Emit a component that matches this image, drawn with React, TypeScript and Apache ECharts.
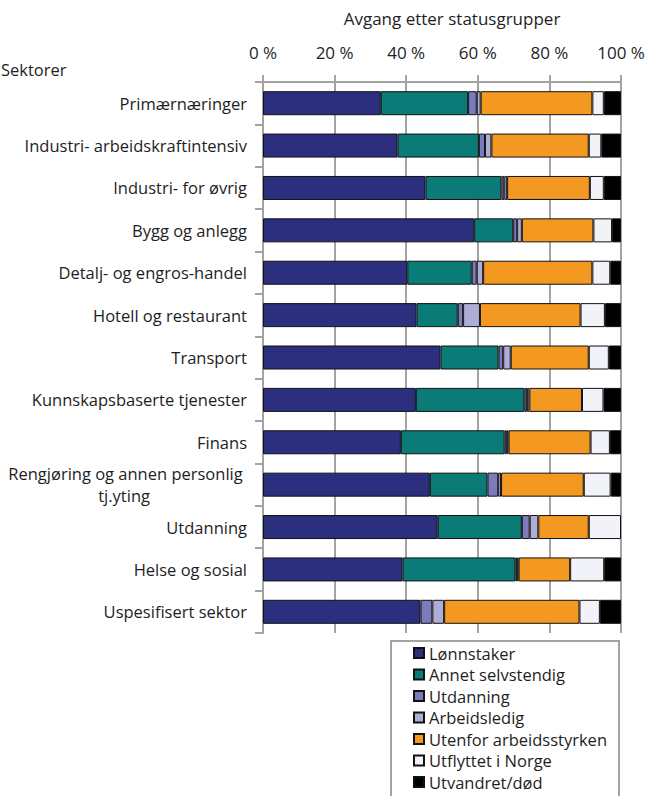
import React, { useEffect, useRef } from "react";
import * as echarts from "echarts";

const sectors = [
  "Primærnæringer",
  "Industri- arbeidskraftintensiv",
  "Industri- for øvrig",
  "Bygg og anlegg",
  "Detalj- og engros-handel",
  "Hotell og restaurant",
  "Transport",
  "Kunnskapsbaserte tjenester",
  "Finans",
  "Rengjøring og annen personlig tj.yting",
  "Utdanning",
  "Helse og sosial",
  "Uspesifisert sektor",
];

const statusGroups = [
  "Lønnstaker",
  "Annet selvstendig",
  "Utdanning",
  "Arbeidsledig",
  "Utenfor arbeidsstyrken",
  "Utflyttet i Norge",
  "Utvandret/død",
];

// Share (%) of each sector's outflow per status group, in sector order
const lonnstaker = [32.9, 37.6, 45.4, 59.0, 40.3, 42.9, 49.6, 42.7, 38.5, 46.6, 48.8, 39.0, 44.0];
const annetSelvstendig = [24.4, 22.7, 21.2, 10.9, 18.0, 11.5, 16.2, 30.3, 29.0, 16.1, 23.5, 31.5, 0];
const utdanning = [2.4, 1.7, 0.8, 1.1, 1.4, 1.5, 1.3, 0.7, 0.6, 3.0, 2.2, 0.5, 3.3];
const arbeidsledig = [1.1, 1.8, 0.8, 1.3, 1.8, 4.7, 2.1, 0.7, 0.5, 0.8, 2.4, 0.4, 3.3];
const utenforArbeidsstyrken = [31.2, 27.2, 23.1, 20.0, 30.5, 28.1, 21.8, 14.7, 22.9, 23.1, 14.1, 14.4, 37.8];
const utflyttetINorge = [3.2, 3.5, 3.9, 5.2, 5.0, 6.8, 5.6, 6.0, 5.4, 7.5, 9.0, 9.5, 5.7];
const utvandretDod = [4.8, 5.5, 4.8, 2.5, 3.0, 4.5, 3.4, 4.9, 3.1, 2.9, 0, 4.7, 5.9];

const xTicks = [0, 20, 40, 60, 80, 100];

const seriesValues = [
  lonnstaker,
  annetSelvstendig,
  utdanning,
  arbeidsledig,
  utenforArbeidsstyrken,
  utflyttetINorge,
  utvandretDod,
];

const colors = ["#2b2f7e", "#0b7b78", "#7b7bbd", "#adadd6", "#f39820", "#f2f3f8", "#000000"];

const FONT = "'Open Sans', 'DejaVu Sans', sans-serif";
const GRID_GRAY = "#a3a3a3";
const TEXT = "#1e1e1e";
const FS = 16.5;

export default function App() {
  const ref = useRef<HTMLDivElement>(null);

  useEffect(() => {
    if (!ref.current) return;
    const chart = echarts.init(ref.current, undefined, { renderer: "svg" });

    const series = statusGroups.map((name, i) => ({
      name,
      type: "bar",
      stack: "total",
      barWidth: 24,
      // empty segments are left out so they draw no stray border
      data: seriesValues[i].map((v) => (v === 0 ? null : v)),
      itemStyle: { color: colors[i], borderColor: "#111", borderWidth: 1 },
      emphasis: { disabled: true },
    }));

    chart.setOption({
      animation: false,
      textStyle: { fontFamily: FONT },
      grid: { left: 263, top: 82, width: 358, height: 551, containLabel: false },
      xAxis: {
        type: "value",
        position: "top",
        min: xTicks[0],
        max: xTicks[xTicks.length - 1],
        interval: xTicks[1] - xTicks[0],
        name: "Avgang etter statusgrupper",
        nameLocation: "middle",
        nameGap: 55,
        nameTextStyle: { fontSize: 17, color: TEXT, fontFamily: FONT, padding: [0, 0, 0, 20] },
        axisLine: { show: true, lineStyle: { color: GRID_GRAY, width: 2 } },
        axisTick: { show: true, length: 7, lineStyle: { color: GRID_GRAY, width: 2 } },
        splitLine: { show: true, lineStyle: { color: GRID_GRAY, width: 2 } },
        axisLabel: {
          margin: 21,
          fontSize: 17,
          color: TEXT,
          fontFamily: FONT,
          formatter: (v: number) => `${v} %`,
        },
      },
      yAxis: {
        type: "category",
        inverse: true,
        data: sectors,
        axisLine: { show: true, lineStyle: { color: GRID_GRAY, width: 2 } },
        axisTick: { show: true, length: 8, alignWithLabel: false, lineStyle: { color: GRID_GRAY, width: 2 } },
        splitLine: { show: false },
        axisLabel: {
          margin: 16,
          fontSize: FS,
          color: TEXT,
          fontFamily: FONT,
          interval: 0,
          formatter: (v: string) => {
            if (v.startsWith("Rengjøring")) {
              return "{a|Rengjøring og annen personlig }\n{b|tj.yting}";
            }
            return v;
          },
          rich: {
            a: { fontSize: FS, color: TEXT, fontFamily: FONT, lineHeight: 22 },
            b: { fontSize: FS, color: TEXT, fontFamily: FONT, lineHeight: 22, padding: [0, 97, 0, 0] },
          },
        },
      },
      legend: {
        data: statusGroups,
        orient: "vertical",
        left: 413,
        top: 644,
        padding: 0,
        itemWidth: 10,
        itemHeight: 10,
        itemGap: 3.5,
        icon: "rect",
        selectedMode: false,
        textStyle: { fontSize: FS, color: TEXT, fontFamily: FONT, lineHeight: 18 },
      },
      graphic: [
        {
          type: "text",
          left: 1,
          top: 61,
          style: { text: "Sektorer", fontSize: FS, fill: TEXT, fontFamily: FONT },
        },
        {
          type: "rect",
          shape: { x: 391, y: 641, width: 228, height: 180 },
          style: { fill: "none", stroke: GRID_GRAY, lineWidth: 2 },
          z: -1,
        },
      ],
      series,
    });

    return () => chart.dispose();
  }, []);

  return (
    <div
      ref={ref}
      style={{ position: "absolute", left: 0, top: 0, width: 653, height: 796, background: "#fff" }}
    />
  );
}
